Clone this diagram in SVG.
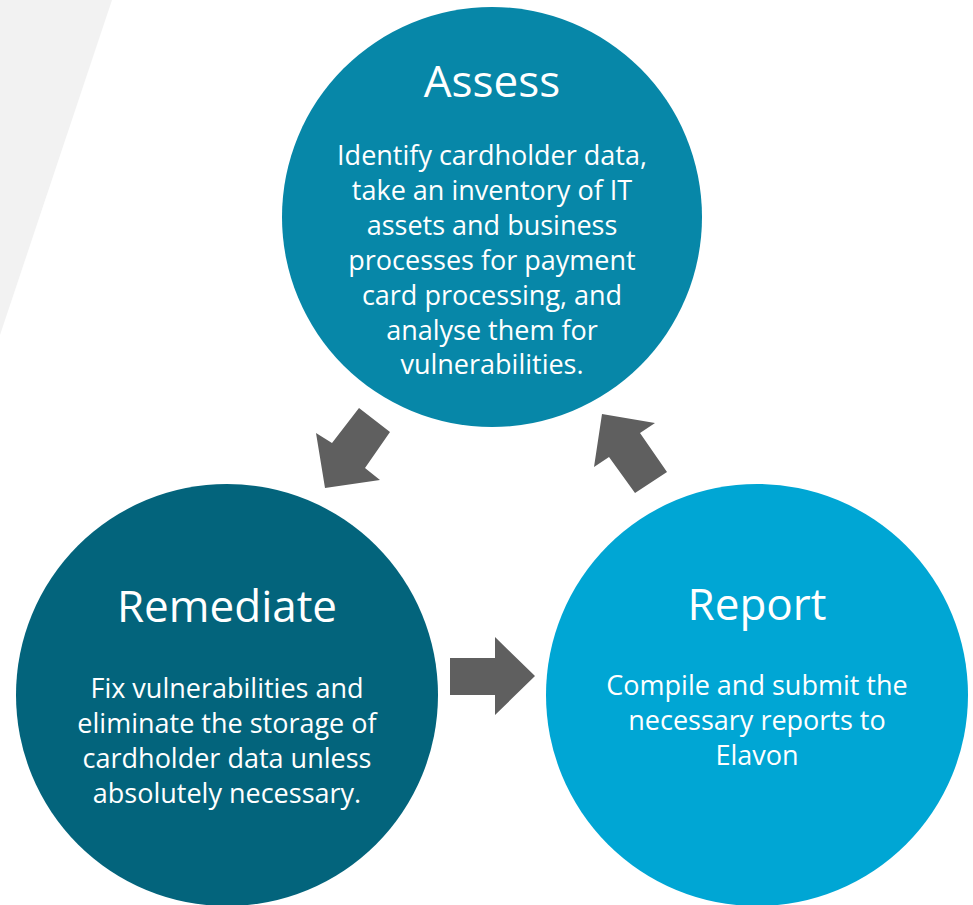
<svg xmlns="http://www.w3.org/2000/svg" width="973" height="905" viewBox="0 0 973 905">
<style>
.title{font-family:"Open Sans","Noto Sans",sans-serif;font-size:44px;fill:#fff;text-anchor:middle}
.body{font-family:"Open Sans","Noto Sans",sans-serif;font-size:27px;fill:#fff;text-anchor:middle}
.arrow{fill:#5f5f5f}
</style>
<rect width="973" height="905" fill="#fff"/>
<polygon points="0,0 112,0 0,335" fill="#f2f2f2"/>
<g id="assess">
<circle cx="492" cy="217" r="210" fill="#0787a8"/>
<text class="title" x="492" y="97">Assess</text>
<text class="body" x="492" y="165">Identify cardholder data,</text>
<text class="body" x="492" y="200">take an inventory of IT</text>
<text class="body" x="492" y="235">assets and business</text>
<text class="body" x="492" y="270">processes for payment</text>
<text class="body" x="492" y="305">card processing, and</text>
<text class="body" x="492" y="340">analyse them for</text>
<text class="body" x="492" y="374">vulnerabilities.</text>
</g>
<g id="remediate">
<circle cx="227" cy="695" r="211" fill="#03647c"/>
<text class="title" x="227" y="622">Remediate</text>
<text class="body" x="227" y="698">Fix vulnerabilities and</text>
<text class="body" x="227" y="733">eliminate the storage of</text>
<text class="body" x="227" y="768">cardholder data unless</text>
<text class="body" x="227" y="803">absolutely necessary.</text>
</g>
<g id="report">
<circle cx="757" cy="695" r="211" fill="#00a6d4"/>
<text class="title" x="757" y="620">Report</text>
<text class="body" x="757" y="695">Compile and submit the</text>
<text class="body" x="757" y="730">necessary reports to</text>
<text class="body" x="757" y="765">Elavon</text>
</g>
<g id="connectors">
<polygon class="arrow" points="325,488 316,433 332,443 359,408 390,432 365,468 380,480"/>
<polygon class="arrow" points="602,414 655,423 640,433 667,472 635,493 609,457 594,467"/>
<polygon class="arrow" points="450,658 495,658 495,637 535,676 495,715 495,695 450,695"/>
</g>
</svg>
